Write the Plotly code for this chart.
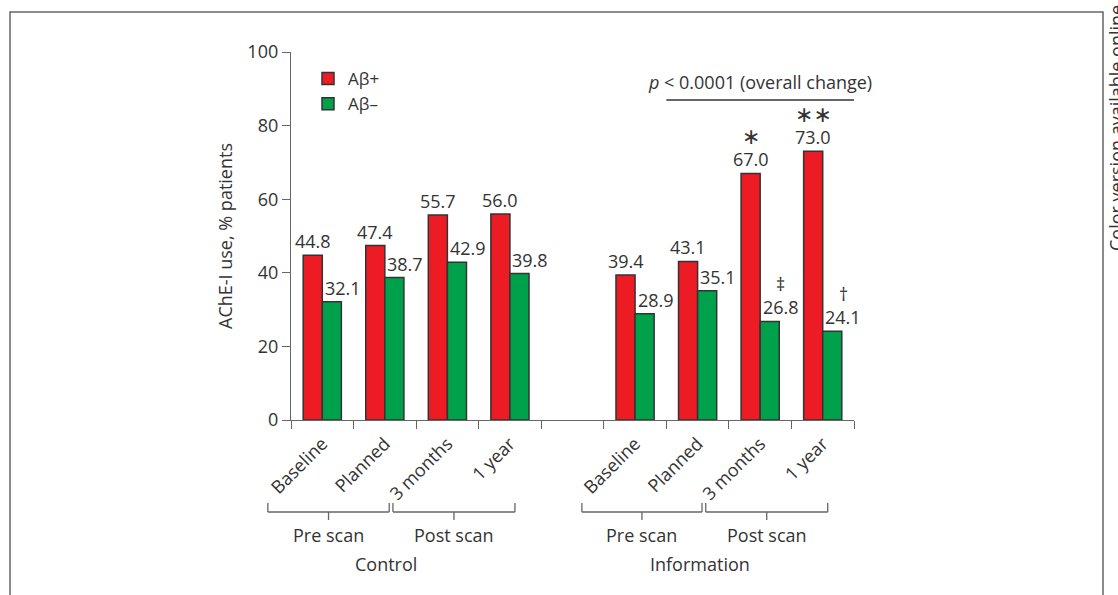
import plotly.graph_objects as go

# ---------------- data ----------------
time_points = ["Baseline", "Planned", "3 months", "1 year"]
phases = ["Pre scan", "Post scan"]
groups = ["Control", "Information"]

control_pos = [44.8, 47.4, 55.7, 56.0]
control_neg = [32.1, 38.7, 42.9, 39.8]
info_pos = [39.4, 43.1, 67.0, 73.0]
info_neg = [28.9, 35.1, 26.8, 24.1]

info_pos_marks = ["", "", "\u2217", "\u2217\u2217"]
info_neg_marks = ["", "", "\u2021", "\u2020"]

series_names = ["A\u03b2+", "A\u03b2\u2013"]
p_text = "<i>p</i> < 0.0001 (overall change)"
y_title = "AChE-I use, % patients"
side_note = "Color version available online"

# ---------------- styling ----------------
RED = "#ED1C24"
GREEN = "#00A14B"
EDGE = "#333333"
TXT = "#333333"
AX = "#666666"
FONT = "Open Sans"
FS = 18

W, H = 1118, 595
L, R, T, B = 291, 264, 52, 175
PW, PH = W - L - R, H - T - B
NSLOT = 9

def xp(px):  # pixel -> paper x
    return (px - L) / PW

def yp(py):  # pixel -> paper y
    return (H - B - py) / PH

def dx(d):  # data x -> paper x
    return d / NSLOT

# slot centres: control 0..3, gap at 4, information 5..8
ctrl_x = [i + 0.5 for i in range(4)]
info_x = [i + 5.5 for i in range(4)]
all_x = ctrl_x + info_x
pos_vals = control_pos + info_pos
neg_vals = control_neg + info_neg

fig = go.Figure()
fig.add_trace(go.Bar(x=all_x, y=pos_vals, name=series_names[0],
                     marker=dict(color=RED, line=dict(color=EDGE, width=1.5))))
fig.add_trace(go.Bar(x=all_x, y=neg_vals, name=series_names[1],
                     marker=dict(color=GREEN, line=dict(color=EDGE, width=1.5))))

ann = []
half = 0.61 / 4
for xc, v in zip(all_x, pos_vals):
    ann.append(dict(x=xc - half, y=v, xref="x", yref="y", text=f"{v:.1f}",
                    showarrow=False, yshift=14, xanchor="center", yanchor="middle",
                    font=dict(size=FS, color=TXT, family=FONT)))
for xc, v in zip(all_x, neg_vals):
    ann.append(dict(x=xc + half, y=v, xref="x", yref="y", text=f"{v:.1f}",
                    showarrow=False, yshift=14, xshift=11, xanchor="center", yanchor="middle",
                    font=dict(size=FS, color=TXT, family=FONT)))
for xc, v, m in zip(info_x, info_pos, info_pos_marks):
    if m:
        ann.append(dict(x=xc - half, y=v, xref="x", yref="y", text=m,
                        showarrow=False, yshift=37, xanchor="center", yanchor="middle",
                        font=dict(size=22, color=TXT, family="DejaVu Sans")))
for xc, v, m in zip(info_x, info_neg, info_neg_marks):
    if m:
        ann.append(dict(x=xc + half, y=v, xref="x", yref="y", text=m,
                        showarrow=False, yshift=37, xshift=11, xanchor="center", yanchor="middle",
                        font=dict(size=FS, color=TXT, family=FONT)))

# p-value text and line
ann.append(dict(x=7.49, y=yp(82), xref="x", yref="paper", text=p_text,
                showarrow=False, xanchor="center", yanchor="middle",
                font=dict(size=FS, color=TXT, family=FONT)))

shapes = []
shapes.append(dict(type="line", xref="x", yref="paper", x0=6, x1=9,
                   y0=yp(100), y1=yp(100), line=dict(color=EDGE, width=1.3)))

# brackets under the axis
yb_top, yb_mid, yb_bot = yp(503), yp(512), yp(520)
bracket_spans = [(-0.37, 1.57), (1.63, 3.58), (4.65, 6.57), (6.63, 8.58)]
phase_labels = phases + phases
for (a, b), lab in zip(bracket_spans, phase_labels):
    c = (a + b) / 2
    for seg in [(a, yb_top, a, yb_mid), (a, yb_mid, b, yb_mid),
                (b, yb_mid, b, yb_top), (c, yb_mid, c, yb_bot)]:
        shapes.append(dict(type="line", xref="paper", yref="paper",
                           x0=dx(seg[0]), y0=seg[1], x1=dx(seg[2]), y1=seg[3],
                           line=dict(color=AX, width=1.3)))
    ann.append(dict(x=dx(c), y=yp(535), xref="paper", yref="paper", text=lab,
                    showarrow=False, xanchor="center", yanchor="middle",
                    font=dict(size=FS, color=TXT, family=FONT)))
for g, c in zip(groups, [1.52, 6.54]):
    ann.append(dict(x=dx(c), y=yp(564), xref="paper", yref="paper", text=g,
                    showarrow=False, xanchor="center", yanchor="middle",
                    font=dict(size=FS, color=TXT, family=FONT)))

# outer frame
shapes.append(dict(type="rect", xref="paper", yref="paper",
                   x0=xp(10), x1=xp(1103), y0=yp(620), y1=yp(12),
                   line=dict(color=AX, width=1.5), fillcolor="rgba(0,0,0,0)"))

# side note
ann.append(dict(x=xp(1116), y=yp(128), xref="paper", yref="paper", text=side_note,
                showarrow=False, textangle=-90, xanchor="center", yanchor="middle",
                font=dict(size=18, color=TXT, family=FONT)))

# y-axis title
ann.append(dict(x=xp(225), y=yp(236), xref="paper", yref="paper", text=y_title,
                showarrow=False, textangle=-90, xanchor="center", yanchor="middle",
                font=dict(size=FS, color=TXT, family=FONT)))

fig.update_layout(
    width=W, height=H,
    margin=dict(l=L, r=R, t=T, b=B, autoexpand=False),
    paper_bgcolor="white", plot_bgcolor="white",
    barmode="group", bargap=0.39, bargroupgap=0,
    font=dict(family=FONT, size=FS, color=TXT),
    showlegend=True,
    legend=dict(x=xp(308), y=yp(61), xanchor="left", yanchor="top",
                bgcolor="rgba(0,0,0,0)", font=dict(size=17, color=TXT, family=FONT),
                tracegroupgap=0, itemwidth=30),
    annotations=ann, shapes=shapes,
)
fig.update_xaxes(
    range=[0, NSLOT], showgrid=False, zeroline=False,
    showline=True, linecolor=AX, linewidth=1.3,
    tickmode="array", tickvals=all_x, ticktext=time_points + time_points,
    tickangle=-45, ticks="outside", ticklen=5, tickcolor="rgba(0,0,0,0)",
    tickfont=dict(size=FS, color=TXT, family=FONT),
    minor=dict(tickmode="array", tickvals=list(range(NSLOT + 1)),
               ticks="outside", ticklen=8, tickwidth=1.3, tickcolor=AX, showgrid=False),
    automargin=False, fixedrange=True,
)
fig.update_yaxes(
    range=[0, 100], showgrid=False, zeroline=False,
    showline=True, linecolor=AX, linewidth=1.3,
    tickmode="array", tickvals=[0, 20, 40, 60, 80, 100],
    ticks="outside", ticklen=8, tickwidth=1.3, tickcolor=AX,
    tickfont=dict(size=FS, color=TXT, family=FONT),
    automargin=False, fixedrange=True,
)

fig.write_html("out.html", config={"displayModeBar": False},
               post_script="document.body.style.margin='0';document.body.style.overflow='hidden';")
